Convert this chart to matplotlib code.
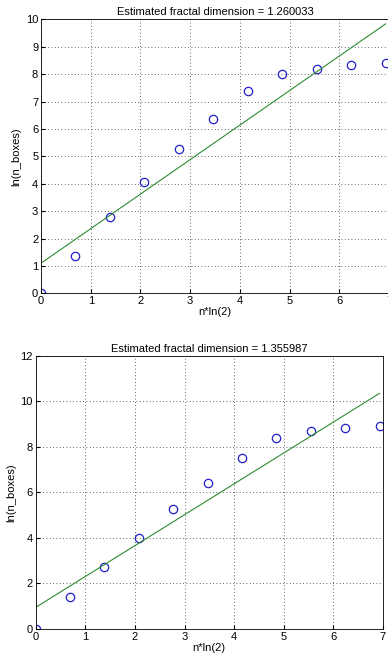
import numpy as np
import matplotlib
matplotlib.use('Agg')
from matplotlib import pyplot as plt

plt.rcParams['font.family'] = ['Liberation Sans', 'DejaVu Sans']

# n*ln(2), n = 0..10
x_vals = [0.0, 0.693, 1.386, 2.079, 2.773, 3.466, 4.159, 4.852, 5.545, 6.238, 6.931]

# ln(n_boxes) for the two runs
y_top = [0.0, 1.38, 2.77, 4.05, 5.25, 6.38, 7.38, 8.0, 8.2, 8.32, 8.4]
y_bot = [0.0, 1.4, 2.73, 4.0, 5.27, 6.4, 7.5, 8.38, 8.7, 8.83, 8.93]

# fitted lines (slope, intercept)
fit_top = [1.260033, 1.1]
fit_bot = [1.355987, 0.95]

titles = ['Estimated fractal dimension = 1.260033',
          'Estimated fractal dimension = 1.355987']


def draw(ax, y, fit, title, ymax, ystep):
    x = np.array(x_vals)
    ax.plot(x, y, 'o', mfc='none', mec='#2020cc', ms=6, mew=0.9)
    ax.plot(x, fit[0] * x + fit[1], color='#2e8b2e', lw=0.8)
    ax.set_xlim(0, 7)
    ax.set_ylim(0, ymax)
    ax.set_xticks(range(0, 8))
    ax.set_yticks(np.arange(0, ymax + 1, ystep))
    ax.grid(True, color='#333333', linestyle=(0, (1, 3)), linewidth=0.6)
    ax.tick_params(direction='in', labelsize=8, length=3, pad=2)
    ax.set_title(title, fontsize=8, pad=3)
    ax.set_xlabel('n*ln(2)', fontsize=8, labelpad=1)
    ax.set_ylabel('ln(n_boxes)', fontsize=8, labelpad=3)
    for s in ax.spines.values():
        s.set_linewidth(0.6)


fig = plt.figure(figsize=(3.88, 6.59), dpi=100)
ax1 = fig.add_axes([0.1057, 0.5549, 0.897, 0.4158])
ax2 = fig.add_axes([0.092, 0.0455, 0.895, 0.4147])

draw(ax1, y_top, fit_top, titles[0], 10, 1)
draw(ax2, y_bot, fit_bot, titles[1], 12, 2)

fig.savefig('out.png', dpi=100)
